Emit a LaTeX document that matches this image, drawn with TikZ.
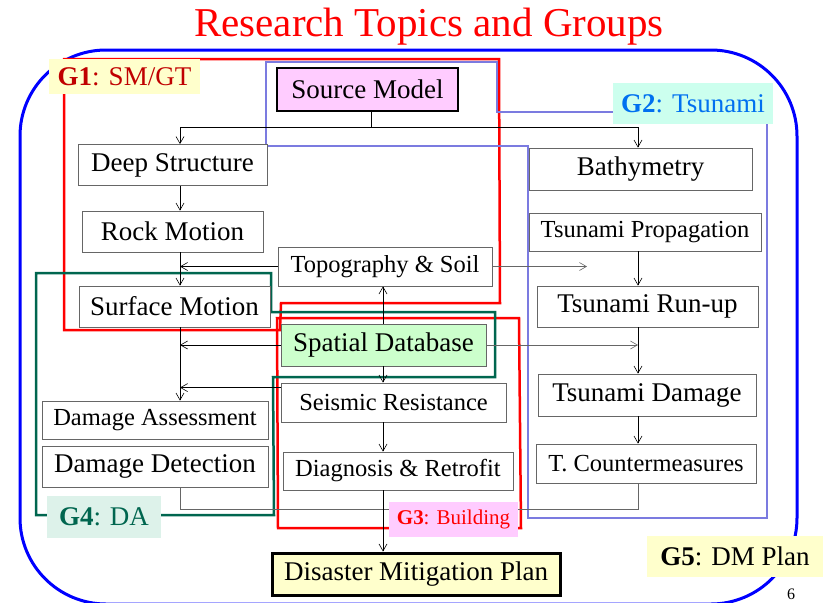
\documentclass[tikz,border=0pt]{standalone}
\usepackage{fontspec}
\setmainfont{Liberation Serif}
\usepackage{xcolor}
\usetikzlibrary{arrows.meta}
\definecolor{frameblue}{HTML}{0000FF}
\definecolor{grpred}{HTML}{FF0000}
\definecolor{gonetext}{HTML}{C00000}
\definecolor{gtwoline}{HTML}{7B7BE0}
\definecolor{gtwotext}{HTML}{0070F0}
\definecolor{gtwofill}{HTML}{CCFFEE}
\definecolor{pinkfill}{HTML}{FFCCFF}
\definecolor{gfourline}{HTML}{00664F}
\definecolor{gfourfill}{HTML}{DDF2EA}
\definecolor{lightyellow}{HTML}{FFFFCC}
\definecolor{dbgreen}{HTML}{CCFFCC}
\definecolor{boxgray}{HTML}{666666}
\newcommand{\topicfont}{\fontsize{27}{30}\selectfont}
\newcommand{\topicfontsm}{\fontsize{24.5}{28}\selectfont}
\tikzset{
  topic/.style={draw=boxgray,fill=white,inner sep=0pt,line width=0.8pt,
    minimum height=41pt,font=\topicfont},
  topicsm/.style={topic,font=\topicfontsm},
  keybox/.style={topic,draw=black,line width=2.5pt},
  grouppath/.style={line width=2.5pt,line join=miter},
  grouplabel/.style={inner sep=0pt,font=\topicfont},
  flowarrow/.style={-{Straight Barb[length=7pt,width=8pt]},line width=0.6pt},
  flowline/.style={line width=0.6pt}
}

\begin{document}
\begin{tikzpicture}[x=1pt,y=-1pt]
\useasboundingbox (0,0) rectangle (823,603);
\node[text=grpred, font=\fontsize{41}{44}\selectfont] (title) at (429,27) {Research Topics and Groups};
\draw[draw=frameblue, line width=3pt, rounded corners=86pt] (20,50) rectangle (797,604);

% group outlines
\draw[grouppath, draw=grpred] (64,59) -- (499,59) -- (500,303) -- (281,303) -- (280,330) -- (64,330) -- cycle;
\draw[grouppath, draw=gtwoline] (266,62) -- (497,62) -- (497,112) -- (767,112) -- (767,518) -- (528,518) -- (528,146) -- (266,146) -- cycle;
\draw[grouppath, draw=grpred] (277,318) -- (519,318) -- (521,528) -- (278,528) -- cycle;
\draw[grouppath, draw=gfourline] (36,273) -- (271,273) -- (271,312) -- (495,312) -- (495,377) -- (273,377) -- (274,515) -- (36,515) -- cycle;

% topics
\node[keybox, fill=pinkfill, minimum width=181pt, minimum height=43pt] (src) at (367.5,89.5) {Source Model};
\node[topic, minimum width=189pt] (deep) at (172.5,165) {Deep Structure};
\node[topic, minimum width=181pt] (rock) at (172.5,231.5) {Rock Motion};
\node[topic, minimum width=191pt] (surf) at (174.5,306.5) {Surface Motion};
\node[topicsm, minimum width=214pt, minimum height=39pt] (topo) at (385,266.5) {Topography \& Soil};
\node[topic, fill=dbgreen, minimum width=205pt, minimum height=42pt] (spatial) at (383.5,345) {Spatial Database};
\node[topicsm, minimum width=225pt, minimum height=39pt] (seismic) at (393.5,402.5) {Seismic Resistance};
\node[topicsm, minimum width=230pt, minimum height=38pt] (diag) at (398,471) {Diagnosis \& Retrofit};
\node[topicsm, minimum width=226pt, minimum height=38pt] (assess) at (155,420) {Damage Assessment};
\node[topic, minimum width=226pt] (detect) at (155,466.5) {Damage Detection};
\node[topic, minimum width=223pt, minimum height=42pt] (bathy) at (640.5,169) {Bathymetry};
\node[topicsm, minimum width=232pt, minimum height=38pt] (prop) at (645,232) {Tsunami Propagation};
\node[topic, minimum width=221pt] (runup) at (647.5,306.5) {Tsunami Run-up};
\node[topic, minimum width=218pt, minimum height=42pt] (tdamage) at (647,395) {Tsunami Damage};
\node[topicsm, minimum width=220pt, minimum height=39pt] (counter) at (646,463.5) {T. Countermeasures};
\node[keybox, fill=lightyellow, line width=3pt, minimum width=288pt, minimum height=42pt] (dmp) at (416,574) {Disaster Mitigation Plan};

% connectors
\coordinate (colL) at (180,0);
\coordinate (colM) at (383,0);
\coordinate (colR) at (638,0);
\coordinate (hub) at (371,127);
\coordinate (topoend) at (587,266.5);
\coordinate (bus) at (0,509);
\draw[flowline] (src.south -| hub) -- (hub);
\draw[flowarrow] (hub) -| (colL |- deep.north);
\draw[flowarrow] (hub) -| (colR |- bathy.north);
\draw[flowarrow] (colL |- deep.south) -- (colL |- rock.north);
\draw[flowarrow] (colL |- rock.south) -- (colL |- surf.north);
\draw[flowarrow] (topo.west) -- (topo.west -| colL);
\draw[flowarrow, draw=boxgray] (topo.east) -- (topoend);
\draw[flowarrow] (colM |- spatial.north) -- (colM |- topo.south);
\draw[flowarrow] (colM |- spatial.south) -- (colM |- seismic.north);
\draw[flowarrow] (spatial.west) -- (spatial.west -| colL);
\draw[flowarrow, draw=boxgray] (spatial.east) -- (spatial.east -| colR);
\draw[flowarrow] (colL |- surf.south) -- (colL |- assess.north);
\draw[flowarrow] ([yshift=-5pt]seismic.north west) -- ([yshift=-5pt]seismic.north west -| colL);
\draw[flowarrow] (colM |- seismic.south) -- (colM |- diag.north);
\draw[flowarrow] (colR |- prop.south) -- (colR |- runup.north);
\draw[flowarrow] (colR |- runup.south) -- (colR |- tdamage.north);
\draw[flowarrow] (colR |- tdamage.south) -- (colR |- counter.north);
\draw[flowline, draw=boxgray] (colL |- detect.south) |- (bus -| colR) -- (colR |- counter.south);
\draw[flowarrow] (colM |- diag.south) -- (colM |- dmp.north);

% group labels
\node[grouplabel, fill=lightyellow, text=gonetext, minimum width=151pt, minimum height=35pt] (gone) at (124.5,76.5) {\textbf{G1}: SM/GT};
\node[grouplabel, fill=gtwofill, text=gtwotext, minimum width=160pt, minimum height=41pt] (gtwo) at (693,103.5) {\textbf{G2}: Tsunami};
\node[grouplabel, fill=pinkfill, text=grpred, font=\fontsize{21}{24}\selectfont, minimum width=129pt, minimum height=35pt] (gthree) at (453.5,519.5) {\textbf{G3}: Building};
\node[grouplabel, fill=gfourfill, text=gfourline, minimum width=114pt, minimum height=42pt] (gfour) at (104,517) {\textbf{G4}: DA};
\node[grouplabel, fill=lightyellow, minimum width=176pt, minimum height=41pt] (gfive) at (735,556.5) {\textbf{G5}: DM Plan};
\node[font=\fontsize{16}{18}\selectfont] (page) at (791,594) {6};
\end{tikzpicture}
\end{document}
